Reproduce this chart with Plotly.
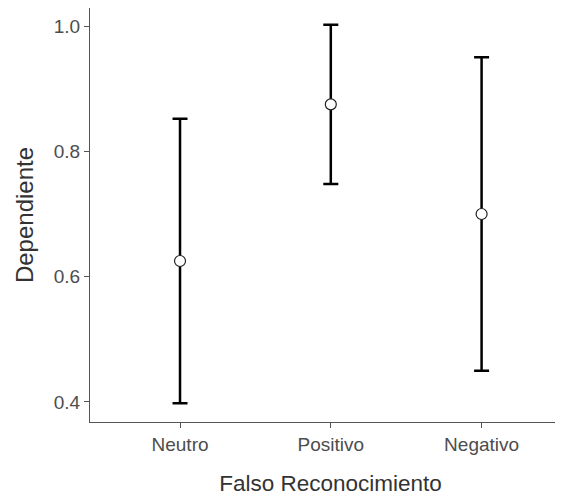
import plotly.graph_objects as go

categories = ["Neutro", "Positivo", "Negativo"]
means = [0.625, 0.875, 0.700]
lower = [0.398, 0.748, 0.450]
upper = [0.852, 1.002, 0.950]

err_plus = [u - m for u, m in zip(upper, means)]
err_minus = [m - l for m, l in zip(means, lower)]

fig = go.Figure()
fig.add_trace(go.Scatter(
    x=[0, 1, 2], y=means, mode="markers",
    marker=dict(size=11, color="white", line=dict(color="#222222", width=1.2)),
    error_y=dict(type="data", symmetric=False, array=err_plus, arrayminus=err_minus,
                 color="black", thickness=2.5, width=7.5),
    showlegend=False,
))

fam = "Liberation Sans, Arial, sans-serif"
axis_font = dict(family=fam, size=19, color="#4d4d4d")

fig.update_layout(
    width=563, height=495,
    margin=dict(l=82, r=0, t=0, b=81, autoexpand=False),
    paper_bgcolor="white", plot_bgcolor="white",
    xaxis=dict(
        tickmode="array", tickvals=[0, 1, 2], ticktext=categories,
        range=[-0.597, 2.593], showline=True, linecolor="#555555", linewidth=1.3,
        ticks="outside", ticklen=5, tickcolor="#555555", showgrid=False, zeroline=False,
        tickfont=axis_font, automargin=False,
        title=dict(text="Falso Reconocimiento",
                   font=dict(family=fam, size=22.5, color="#333333"), standoff=21),
    ),
    yaxis=dict(
        range=[0.368, 1.0288], tickvals=[0.4, 0.6, 0.8, 1.0],
        ticktext=["0.4", "0.6", "0.8", "1.0"],
        showline=True, linecolor="#555555", linewidth=1.3,
        ticks="outside", ticklen=5, tickcolor="#555555", showgrid=False, zeroline=False,
        tickfont=axis_font, automargin=False,
        title=dict(text="Dependiente",
                   font=dict(family=fam, size=24, color="#333333"), standoff=13),
    ),
)

fig.write_html("out.html")
